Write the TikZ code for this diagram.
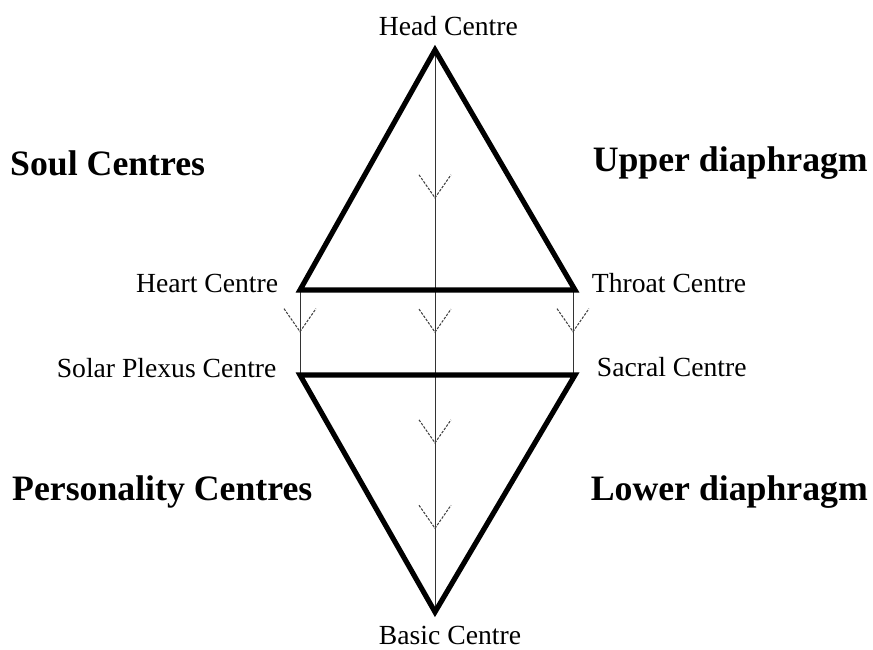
\documentclass[tikz,border=0pt]{standalone}
\usepackage{fontspec}
\setmainfont{Liberation Serif}
\usetikzlibrary{positioning}

\begin{document}
\begin{tikzpicture}[
        x=0.03cm, y=-0.03cm,
        edge/.style={line width=4.4pt, line join=miter},
        axis/.style={line width=0.8pt, black!80},
        centre/.style={font=\fontsize{23.6}{26}\selectfont, inner sep=0pt},
        group/.style={font=\fontsize{30.5}{33}\selectfont\bfseries, inner sep=0pt},
        vhead/.pic={\draw[line width=0.9pt, black!75, dash pattern=on 2.2pt off 1.2pt] (-16,-23) -- (0,0) -- (16,-23);}
    ]
        \useasboundingbox (0,0) rectangle (873,650);
        % vertices
        \coordinate (head)   at (435,50);
        \coordinate (heart)  at (300,290);
        \coordinate (throat) at (575,290);
        \coordinate (solar)  at (300,375);
        \coordinate (sacral) at (575,375);
        \coordinate (basic)  at (435,612);
        % connecting lines
        \draw[axis] (head) -- (basic)
            pic[pos=0.263] {vhead} pic[pos=0.502] {vhead}
            pic[pos=0.699] {vhead} pic[pos=0.851] {vhead};
        \draw[axis] (heart) -- (solar) pic[pos=0.49] {vhead};
        \draw[axis] ([xshift=-2*0.03cm]throat) -- ([xshift=-2*0.03cm]sacral) pic[pos=0.49] {vhead};
        % triangles
        \draw[edge] (heart) -- (head) -- (throat) -- cycle;
        \draw[edge] (solar) -- (basic) -- (sacral) -- cycle;
        % labels
        \node[centre, above=0.42cm of head, xshift=0.4cm]  (headlbl)   {Head Centre};
        \node[centre, left=0.65cm of heart, yshift=0.2cm]  (heartlbl)  {Heart Centre};
        \node[centre, right=0.5cm of throat, yshift=0.2cm] (throatlbl) {Throat Centre};
        \node[centre, left=0.7cm of solar, yshift=0.2cm]   (solarlbl)  {Solar Plexus Centre};
        \node[centre, right=0.65cm of sacral, yshift=0.25cm] (sacrallbl) {Sacral Centre};
        \node[centre, below=0.42cm of basic, xshift=0.45cm] (basiclbl) {Basic Centre};
        \node[group, anchor=west] (soul)   at (10,163)  {Soul Centres};
        \node[group, anchor=east] (upper)  at (868,163) {Upper diaphragm};
        \node[group, anchor=west] (person) at (12,492)  {Personality Centres};
        \node[group, anchor=east] (lower)  at (868,492) {Lower diaphragm};
    \end{tikzpicture}
\end{document}
